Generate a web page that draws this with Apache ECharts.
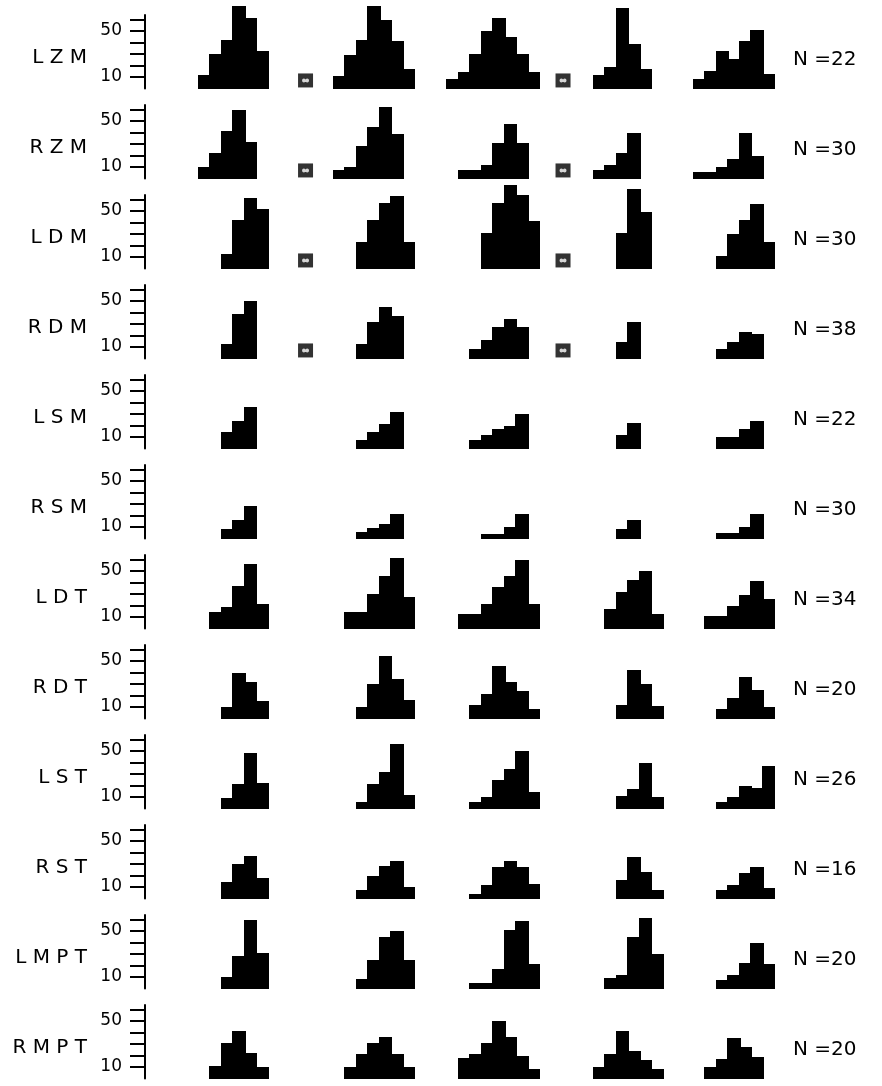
<!DOCTYPE html>
<html><head><meta charset="utf-8">
<script src="https://cdn.jsdelivr.net/npm/echarts@6/dist/echarts.min.js"></script>
<style>html,body{margin:0;padding:0;background:#fff}#c{width:882px;height:1086px}</style>
</head><body><div id="c"></div>
<script>
// ---------------- DATA ----------------
const rowLabels = ['LZM','RZM','LDM','RDM','LSM','RSM','LDT','RDT','LST','RST','LMPT','RMPT'];
const nValues = [22,30,30,38,22,30,34,20,26,16,20,20];

// bin heights per histogram column (one array per row)
const col1 = [
  [12,30,42,72,61,33],
  [10,22,41,60,32,0],
  [0,0,13,42,61,52],
  [0,0,13,39,50,0],
  [0,0,14,24,36,0],
  [0,0,8,16,28,0],
  [0,14,19,37,56,21],
  [0,0,10,40,32,15],
  [0,0,9,21,48,22],
  [0,0,14,30,37,18],
  [0,0,10,28,60,31],
  [0,11,31,41,22,10]
];
const col2 = [
  [11,29,42,72,60,41,17],
  [7,10,28,45,62,39,0],
  [0,0,23,42,57,63,23],
  [0,0,13,32,45,37,0],
  [0,0,7,14,21,32,0],
  [0,0,6,9,13,21,0],
  [0,14,14,30,46,61,27],
  [0,0,10,30,54,34,16],
  [0,0,6,21,32,56,12],
  [0,0,7,20,28,33,10],
  [0,0,8,25,45,50,25],
  [0,10,21,31,36,21,10]
];
const col3 = [
  [8,14,30,50,61,45,30,14],
  [0,7,7,12,31,47,31,0],
  [0,0,0,31,57,73,64,41],
  [0,0,8,16,27,34,27,0],
  [0,0,7,12,17,20,30,0],
  [0,0,0,4,4,10,21,0],
  [0,13,13,21,36,46,60,21],
  [0,0,12,21,46,32,24,8],
  [0,0,6,10,25,34,50,14],
  [0,0,4,12,27,33,27,13],
  [0,0,5,5,17,51,59,21],
  [0,18,21,31,50,36,20,8]
];
const col4 = [
  [12,19,70,39,17,0],
  [7,12,22,40,0,0],
  [0,0,31,69,49,0],
  [0,0,14,32,0,0],
  [0,0,12,22,0,0],
  [0,0,8,16,0,0],
  [0,17,32,42,50,13],
  [0,0,12,42,30,11],
  [0,0,11,17,40,10],
  [0,0,16,36,23,7],
  [0,9,12,45,61,30],
  [10,21,41,24,16,8]
];
const col5 = [
  [8,15,33,26,41,51,13],
  [6,6,10,17,40,20,0],
  [0,0,11,30,42,56,23],
  [0,0,8,14,23,21,0],
  [0,0,10,10,17,24,0],
  [0,0,5,5,10,21,0],
  [0,11,11,20,29,41,26],
  [0,0,8,18,36,25,10],
  [0,0,6,10,20,18,37],
  [0,0,7,12,22,27,9],
  [0,0,7,12,22,40,21],
  [0,10,17,35,27,19,0]
];

const scaleTicks = [10,20,30,40,50,60];
const scaleLabels = [10,50];
const markerRows = [0,1,2,3];
const markerSlots = [13.96, 36.35];
const markerLevel = 7;

// ---------------- LAYOUT ----------------
const W = 882;
const unitPx = 11.5;          // one histogram bin
const axisX = 145;
const firstBase = 88.5, rowPitch = 90;
const yMax = 64, pxPerUnit = 1.15;
const gridH = yMax * pxPerUnit;
const xUnits = 57;
const colStart = [4.63, 16.37, 26.23, 38.98, 47.68];
const columns = [col1, col2, col3, col4, col5];
const FONT = 'DejaVu Sans';

const grid = [], xAxis = [], yAxis = [], series = [], title = [];

rowLabels.forEach((lab, r) => {
  const base = firstBase + r * rowPitch;
  grid.push({left: axisX, top: base - gridH, width: xUnits * unitPx, height: gridH});
  xAxis.push({gridIndex: r, type: 'value', min: 0, max: xUnits, show: false});
  yAxis.push({
    gridIndex: r, type: 'value', min: 0, max: yMax, interval: 10, position: 'left',
    axisLine: {show: true, lineStyle: {color: '#000', width: 2}},
    axisTick: {show: true, length: 15, inside: false, customValues: scaleTicks, lineStyle: {color: '#000', width: 2}},
    axisLabel: {show: true, customValues: scaleLabels, margin: 23, fontSize: 17, fontFamily: FONT, color: '#000'},
    splitLine: {show: false}
  });

  const bins = [];
  columns.forEach((col, c) => {
    col[r].forEach((v, i) => {
      if (v > 0) bins.push([colStart[c] + i, colStart[c] + i + 1, v]);
    });
  });
  series.push({
    type: 'custom', xAxisIndex: r, yAxisIndex: r, silent: true, clip: false,
    encode: {x: [0, 1], y: 2},
    data: bins,
    renderItem: function (params, api) {
      const p0 = api.coord([api.value(0), api.value(2)]);
      const p1 = api.coord([api.value(1), 0]);
      return {type: 'rect',
        shape: {x: Math.floor(p0[0]), y: Math.round(p0[1]), width: Math.ceil(p1[0]) - Math.floor(p0[0]) + 1, height: Math.round(p1[1]) - Math.round(p0[1])},
        style: {fill: '#000', stroke: null}};
    }
  });

  if (markerRows.indexOf(r) >= 0) {
    const pts = markerSlots.map(s => [s, markerLevel]);
    series.push({type: 'scatter', xAxisIndex: r, yAxisIndex: r, silent: true,
      symbol: 'rect', symbolSize: [15, 14], itemStyle: {color: '#000'}, data: pts, z: 3});
    series.push({type: 'scatter', xAxisIndex: r, yAxisIndex: r, silent: true,
      symbol: 'path://M0,5a5,5 0 1,0 10,0a5,5 0 1,0 -10,0M9,5a5,5 0 1,0 10,0a5,5 0 1,0 -10,0',
      symbolSize: [7, 4], itemStyle: {color: '#fff'}, data: pts, z: 4});
  }

  title.push({text: lab.split('').join(' '), right: W - 87, top: base - 41, padding: 0,
    textStyle: {fontSize: 20, fontWeight: 'normal', fontFamily: FONT, color: '#000', lineHeight: 20}});
  title.push({text: 'N =' + nValues[r], left: 793, top: base - 38.5, padding: 0,
    textStyle: {fontSize: 20, fontWeight: 'normal', fontFamily: FONT, color: '#000', lineHeight: 20}});
});

const chart = echarts.init(document.getElementById('c'), null, {renderer: 'canvas'});
chart.setOption({backgroundColor: '#fff', animation: false, title, grid, xAxis, yAxis, series});
</script></body></html>
